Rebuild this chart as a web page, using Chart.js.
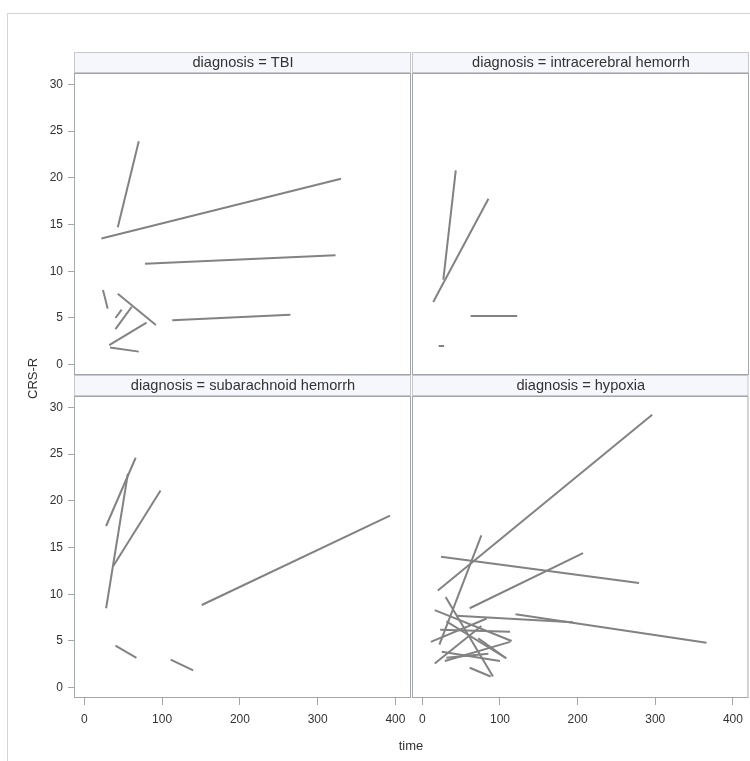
<!DOCTYPE html>
<html>
<head>
<meta charset="utf-8">
<script src="https://cdn.jsdelivr.net/npm/chart.js@4.4.0/dist/chart.umd.min.js"></script>
<style>
  html, body { margin: 0; padding: 0; background: #ffffff; }
  #wrap { position: relative; width: 750px; height: 761px; overflow: hidden; background: #fff; }
  #outer { position: absolute; left: 7px; top: 13px; width: 760px; height: 760px; border: 1px solid #d4d4d4; box-sizing: border-box; }
  canvas { position: absolute; left: 0; top: 0; }
  .atitle { position: absolute; font-family: "Liberation Sans", Arial, sans-serif; font-size: 13px; font-weight: normal; color: #333; white-space: nowrap; }
  #ytitle { left: 14px; top: 361px; width: 38px; height: 38px; line-height: 38px; text-align: center; transform: rotate(-90deg); }
  #xtitle { left: 391px; top: 738px; width: 40px; text-align: center; }
</style>
</head>
<body>
<div id="wrap">
  <div id="outer"></div>
  <canvas id="c0" width="750" height="761"></canvas>
  <canvas id="c1" width="750" height="761"></canvas>
  <canvas id="c2" width="750" height="761"></canvas>
  <canvas id="c3" width="750" height="761"></canvas>
  <div class="atitle" id="ytitle">CRS-R</div>
  <div class="atitle" id="xtitle">time</div>
</div>
<script>
// ---- data: each segment is [time0, crsr0, time1, crsr1] ----
const panelTitles = ['diagnosis = TBI', 'diagnosis = intracerebral hemorrh',
                     'diagnosis = subarachnoid hemorrh', 'diagnosis = hypoxia'];
const xTickValues = [0, 100, 200, 300, 400];
const yTickValues = [0, 5, 10, 15, 20, 25, 30];

const tbiSegments = [
  [43, 14.7, 70, 23.9],
  [22, 13.5, 330, 19.9],
  [78, 10.8, 323, 11.7],
  [24, 8.0, 30, 6.0],
  [43, 7.6, 92, 4.25],
  [40, 5.0, 48, 5.9],
  [40, 3.8, 61, 6.2],
  [32, 2.1, 80, 4.5],
  [33, 1.85, 70, 1.4],
  [113, 4.75, 265, 5.35]
];
const ichSegments = [
  [27, 9.1, 43, 20.8],
  [14, 6.7, 85, 17.75],
  [62, 5.2, 122, 5.2],
  [21, 2.0, 28, 2.0]
];
const sahSegments = [
  [28, 17.3, 66, 24.6],
  [28, 8.5, 56, 22.9],
  [37, 13.0, 98, 21.1],
  [151, 8.85, 393, 18.4],
  [40, 4.5, 67, 3.2],
  [111, 3.0, 140, 1.85]
];
const hypoxiaSegments = [
  [20, 10.4, 296, 29.2],
  [24, 14.0, 279, 11.2],
  [61, 8.5, 207, 14.4],
  [120, 7.85, 366, 4.8],
  [22, 4.6, 76, 16.3],
  [44, 7.7, 194, 7.0],
  [30, 9.7, 91, 1.2],
  [16, 8.3, 115, 5.0],
  [11, 4.9, 83, 7.4],
  [23, 6.2, 113, 6.0],
  [31, 7.1, 108, 3.15],
  [16, 2.6, 76, 6.6],
  [25, 3.85, 100, 2.86],
  [29, 2.86, 113, 4.9],
  [31, 3.2, 85, 3.64],
  [61, 2.14, 88, 1.2],
  [72, 5.28, 108, 3.15]
];

// ---- layout (pixels) ----
const W = 750, H = 761;
const cols = [{ left: 75, right: 411 }, { left: 413, right: 749 }];
const rows = [{ top: 74, bottom: 375 }, { top: 397, bottom: 698 }];
const Y_AXIS_W = 40, X_AXIS_H = 30;
const FONT = '"Liberation Sans", Arial, sans-serif';

const framePlugin = {
  id: 'panelFrame',
  afterDatasetsDraw(chart, args, opts) {
    const { left, top, right, bottom } = chart.chartArea;
    const ctx = chart.ctx;
    ctx.save();
    // header strip
    ctx.fillStyle = '#f5f7fd';
    ctx.fillRect(left - 1, top - 21, right - left + 1, 20);
    ctx.strokeStyle = '#c6c8cc';
    ctx.lineWidth = 1;
    ctx.strokeRect(left - 0.5, top - 21.5, right - left, 20);
    // plot frame
    ctx.strokeStyle = '#a3a6aa';
    ctx.strokeRect(left - 0.5, top - 0.5, right - left, bottom - top);
    // header text
    ctx.fillStyle = '#333333';
    ctx.font = '14.6px ' + FONT;
    ctx.textAlign = 'center';
    ctx.textBaseline = 'middle';
    ctx.fillText(opts.title, (left + right) / 2, top - 11);
    ctx.restore();
  }
};

function makePanel(canvasId, segments, title, col, row) {
  const c = cols[col], r = rows[row];
  const showY = col === 0, showX = row === 1;
  const datasets = segments.map(s => ({
    data: [{ x: s[0], y: s[1] }, { x: s[2], y: s[3] }],
    showLine: true,
    borderColor: '#828282',
    borderWidth: 2,
    pointRadius: 0,
    pointHoverRadius: 0,
    fill: false
  }));
  const padding = {
    left: showY ? c.left - Y_AXIS_W : c.left,
    right: W - c.right,
    top: r.top,
    bottom: showX ? H - r.bottom - X_AXIS_H : H - r.bottom
  };
  return new Chart(document.getElementById(canvasId), {
    type: 'scatter',
    data: { datasets },
    plugins: [framePlugin],
    options: {
      responsive: false,
      animation: false,
      devicePixelRatio: 1,
      layout: { padding },
      plugins: {
        legend: { display: false },
        tooltip: { enabled: false },
        panelFrame: { title }
      },
      scales: {
        x: {
          type: 'linear',
          display: showX,
          min: -12, max: 420,
          afterBuildTicks: s => { s.ticks = xTickValues.map(v => ({ value: v })); },
          afterFit: s => { s.height = showX ? X_AXIS_H : 0; },
          grid: { drawOnChartArea: false, drawTicks: true, tickLength: 7, color: '#a3a6aa' },
          border: { display: false },
          ticks: { color: '#333333', font: { family: FONT, size: 12 }, padding: 7, maxRotation: 0, autoSkip: false }
        },
        y: {
          type: 'linear',
          display: showY,
          min: -1.1, max: 31.1,
          afterBuildTicks: s => { s.ticks = yTickValues.map(v => ({ value: v })); },
          afterFit: s => { s.width = showY ? Y_AXIS_W : 0; },
          grid: { drawOnChartArea: false, drawTicks: true, tickLength: 7, color: '#a3a6aa' },
          border: { display: false },
          ticks: { color: '#333333', font: { family: FONT, size: 12 }, padding: 5, autoSkip: false }
        }
      }
    }
  });
}

makePanel('c0', tbiSegments, panelTitles[0], 0, 0);
makePanel('c1', ichSegments, panelTitles[1], 1, 0);
makePanel('c2', sahSegments, panelTitles[2], 0, 1);
makePanel('c3', hypoxiaSegments, panelTitles[3], 1, 1);
</script>
</body>
</html>
